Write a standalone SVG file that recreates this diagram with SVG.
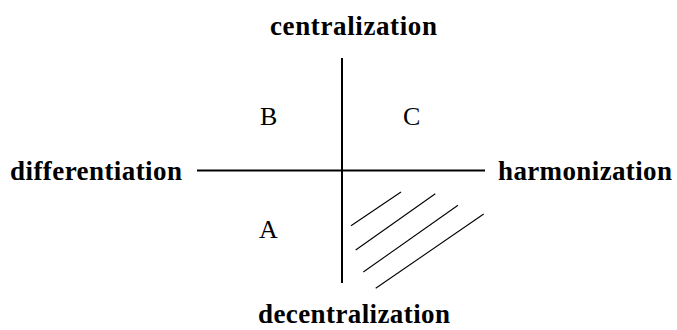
<svg xmlns="http://www.w3.org/2000/svg" width="677" height="330" viewBox="0 0 677 330">
<style>
.lbl{font-family:"Liberation Serif","Times New Roman",serif;font-size:27px;font-weight:bold;fill:#000}
.q{font-family:"Liberation Serif","Times New Roman",serif;font-size:26px;fill:#000}
.axis{stroke:#000;stroke-width:2;fill:none}
.hatch{stroke:#000;stroke-width:1.1;fill:none}
</style>
<rect width="677" height="330" fill="#fff"/>
<g id="connectors">
<line class="axis" x1="342" y1="58" x2="342" y2="283"/>
<line class="axis" x1="197" y1="170.5" x2="485" y2="170.5"/>
</g>
<g id="hatching">
<line class="hatch" x1="351" y1="225.7" x2="401" y2="192"/>
<line class="hatch" x1="355.7" y1="250" x2="435.3" y2="193.7"/>
<line class="hatch" x1="363.3" y1="272" x2="458" y2="205.3"/>
<line class="hatch" x1="375.7" y1="288.3" x2="483.7" y2="214"/>
</g>
<g id="centralization"><text class="lbl" x="270" y="35" textLength="167" lengthAdjust="spacing">centralization</text></g>
<g id="differentiation"><text class="lbl" x="10" y="180" textLength="172" lengthAdjust="spacing">differentiation</text></g>
<g id="harmonization"><text class="lbl" x="498" y="180" textLength="174" lengthAdjust="spacing">harmonization</text></g>
<g id="decentralization"><text class="lbl" x="258" y="323" textLength="192" lengthAdjust="spacing">decentralization</text></g>
<g id="B"><text class="q" x="260" y="125">B</text></g>
<g id="C"><text class="q" x="403" y="125">C</text></g>
<g id="A"><text class="q" x="259" y="238">A</text></g>
</svg>
